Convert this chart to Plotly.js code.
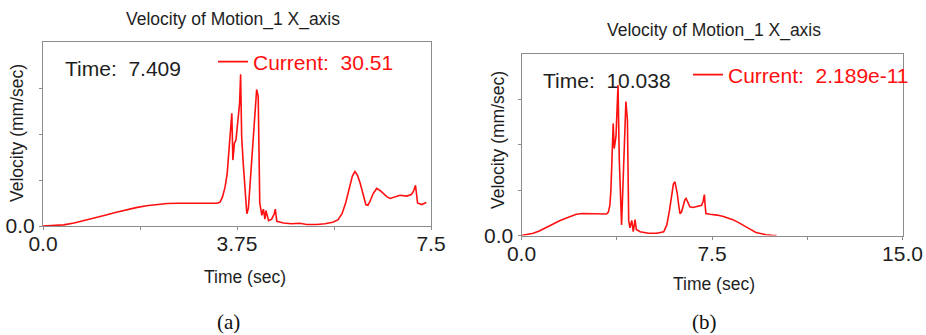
<!DOCTYPE html>
<html>
<head>
<meta charset="utf-8">
<script src="https://cdn.plot.ly/plotly-3.0.1.min.js"></script>
<style>html,body{margin:0;padding:0;background:#fff;}#chart{width:926px;height:335px;}</style>
</head>
<body>
<div id="chart"></div>
<script>
// ---- data ----
const titleText = "Velocity of Motion_1 X_axis";
const xTitle = "Time (sec)";
const yTitle = "Velocity (mm/sec)";

const timeA = [0, 0.2, 0.4, 0.6, 0.8, 1.0, 1.2, 1.4, 1.6, 1.8, 2.0, 2.2, 2.4, 2.6, 2.8, 3.0, 3.2, 3.36, 3.42, 3.47, 3.52, 3.56, 3.58, 3.61, 3.65, 3.67, 3.70, 3.73, 3.76, 3.80, 3.82, 3.84, 3.87, 3.90, 3.94, 3.97, 4.00, 4.03, 4.07, 4.10, 4.13, 4.16, 4.18, 4.19, 4.23, 4.26, 4.29, 4.31, 4.36, 4.42, 4.47, 4.49, 4.52, 4.65, 4.8, 4.96, 5.1, 5.29, 5.45, 5.6, 5.7, 5.78, 5.85, 5.92, 5.98, 6.03, 6.08, 6.13, 6.19, 6.24, 6.28, 6.32, 6.38, 6.45, 6.52, 6.58, 6.65, 6.71, 6.80, 6.90, 7.03, 7.12, 7.16, 7.20, 7.22, 7.24, 7.32, 7.409];
const velA  = [0, 0.3, 1.5, 4, 7, 10.5, 14, 17.5, 21, 24, 26.5, 28.3, 29.4, 29.7, 29.5, 29.3, 29.4, 29.6, 31, 38, 51, 68, 86, 117, 147, 86, 108, 112, 130, 160, 198, 117, 82, 55, 16, 23, 50, 86, 120, 151, 178, 169, 86, 30, 14, 22, 9, 20, 7, 9, 16, 22, 6, 4, 3, 3.5, 2, 2, 3, 5, 8, 16, 30, 50, 65, 71, 66, 56, 40, 28, 27, 32, 42, 49, 46, 42, 38, 36, 38, 40, 39, 41, 45, 53, 42, 30, 28, 30.51];

const timeB = [0, 0.3, 0.46, 0.7, 0.9, 1.11, 1.3, 1.5, 1.77, 2.0, 2.16, 2.4, 2.7, 3.08, 3.35, 3.42, 3.48, 3.52, 3.55, 3.61, 3.65, 3.72, 3.80, 3.85, 3.94, 4.01, 4.11, 4.17, 4.22, 4.27, 4.34, 4.40, 4.47, 4.52, 4.67, 5.0, 5.32, 5.6, 5.72, 5.82, 5.91, 5.98, 6.04, 6.09, 6.13, 6.19, 6.24, 6.30, 6.37, 6.43, 6.48, 6.55, 6.63, 6.75, 6.90, 7.09, 7.15, 7.20, 7.23, 7.26, 7.42, 7.7, 7.95, 8.15, 8.32, 8.55, 8.84, 9.05, 9.23, 9.45, 9.63, 9.85, 10.038];
const velB  = [0, 1.5, 3, 6, 9.5, 13, 16.5, 19.5, 23, 26.5, 28, 29, 29, 29, 28.5, 31, 40, 60, 87, 148, 115, 131, 199, 100, 14, 78, 177, 153, 20, 10, 20, 5, 21, 8, 5, 3, 3, 5, 14, 32, 56, 68, 71, 64, 56, 40, 29, 31, 40, 47, 49, 43, 38, 37, 38, 40, 45, 54, 40, 29, 28, 27, 25, 23, 21, 17, 12, 7.5, 4, 2, 1, 0.3, 0];

const xTicksA = [0, 1.875, 3.75, 5.625, 7.5];
const xTickTextA = ["0.0", "", "3.75", "", "7.5"];
const xTicksB = [0, 3.75, 7.5, 11.25, 15];
const xTickTextB = ["0.0", "", "7.5", "", "15.0"];
const yTicks = [0, 60, 120, 180];
const yTickText = ["0.0", "", "", ""];

const timeLabelA = "Time:  7.409";
const timeLabelB = "Time:  10.038";
const currentA = "Current:  30.51";
const currentB = "Current:  2.189e-11";
const captions = ["(a)", "(b)"];

// ---- helpers ----
const W = 926, H = 335;
const px = x => x / W;
const py = y => 1 - y / H;
const SANS = "Liberation Sans, Arial, sans-serif";
const RED = "#ff1010";
const INK = "#1e1e1e";
const FRAME = "#8c8c8c";

function xAxis(dom, range, vals, text) {
  return {domain: dom, range: range, tickmode: "array", tickvals: vals, ticktext: text,
    showline: true, mirror: true, linecolor: FRAME, linewidth: 1, ticks: "outside", ticklen: 3,
    tickcolor: FRAME, showgrid: false, zeroline: false, fixedrange: true, ticklabelstandoff: -4,
    tickfont: {family: SANS, size: 21, color: INK}};
}
function yAxis(dom) {
  return {domain: dom, range: [0, 240], tickmode: "array", tickvals: yTicks, ticktext: yTickText,
    showline: true, mirror: true, linecolor: FRAME, linewidth: 1, ticks: "outside", ticklen: 3,
    tickcolor: FRAME, showgrid: false, zeroline: false, fixedrange: true,
    tickfont: {family: SANS, size: 21, color: INK}};
}

const traces = [
  {x: timeA, y: velA, type: "scatter", mode: "lines", name: currentA, xaxis: "x", yaxis: "y",
   line: {color: RED, width: 1.6}, legend: "legend"},
  {x: timeB, y: velB, type: "scatter", mode: "lines", name: currentB, xaxis: "x2", yaxis: "y2",
   line: {color: RED, width: 1.6}, legend: "legend2"}
];

function txt(text, x, y, size, color, opts) {
  return Object.assign({text: text, xref: "paper", yref: "paper", x: px(x), y: py(y),
    showarrow: false, xanchor: "center", yanchor: "middle",
    font: {family: SANS, size: size, color: color}}, opts || {});
}

const SERIF = {family: "Liberation Serif, Times New Roman, serif", size: 21, color: "#111"};
const annotations = [
  txt(titleText, 232.5, 19, 17.5, INK),
  txt(titleText, 713.5, 30, 17.5, INK),
  txt(xTitle, 245.5, 277, 17.5, INK),
  txt(xTitle, 714, 284, 17.5, INK),
  txt(yTitle, 17, 133, 17.5, INK, {textangle: -90}),
  txt(yTitle, 498, 140, 17.5, INK, {textangle: -90}),
  txt(timeLabelA, 63, 68, 21, INK, {xanchor: "left"}),
  txt(timeLabelB, 541, 81, 21, INK, {xanchor: "left"}),
  txt(captions[0], 228.5, 322, 21, "#111", {font: SERIF}),
  txt(captions[1], 704, 322, 21, "#111", {font: SERIF})
];

const legendBase = {xanchor: "left", yanchor: "middle", bgcolor: "rgba(0,0,0,0)", borderwidth: 0,
  itemwidth: 30, font: {family: SANS, size: 21, color: RED}, tracegroupgap: 0};

const layout = {
  width: W, height: H,
  margin: {l: 0, r: 0, t: 0, b: 0},
  paper_bgcolor: "#fff", plot_bgcolor: "#fff",
  showlegend: true,
  xaxis: Object.assign(xAxis([px(43), px(431)], [0, 7.5], xTicksA, xTickTextA), {anchor: "y"}),
  yaxis: Object.assign(yAxis([py(226), py(42)]), {anchor: "x"}),
  xaxis2: Object.assign(xAxis([px(521.5), px(902.5)], [0, 15], xTicksB, xTickTextB), {anchor: "y2"}),
  yaxis2: Object.assign(yAxis([py(235.5), py(54)]), {anchor: "x2"}),
  legend: Object.assign({}, legendBase, {x: px(213), y: py(62)}),
  legend2: Object.assign({}, legendBase, {x: px(688), y: py(75)}),
  annotations: annotations
};

Plotly.newPlot("chart", traces, layout, {displayModeBar: false, staticPlot: true});
</script>
</body>
</html>
